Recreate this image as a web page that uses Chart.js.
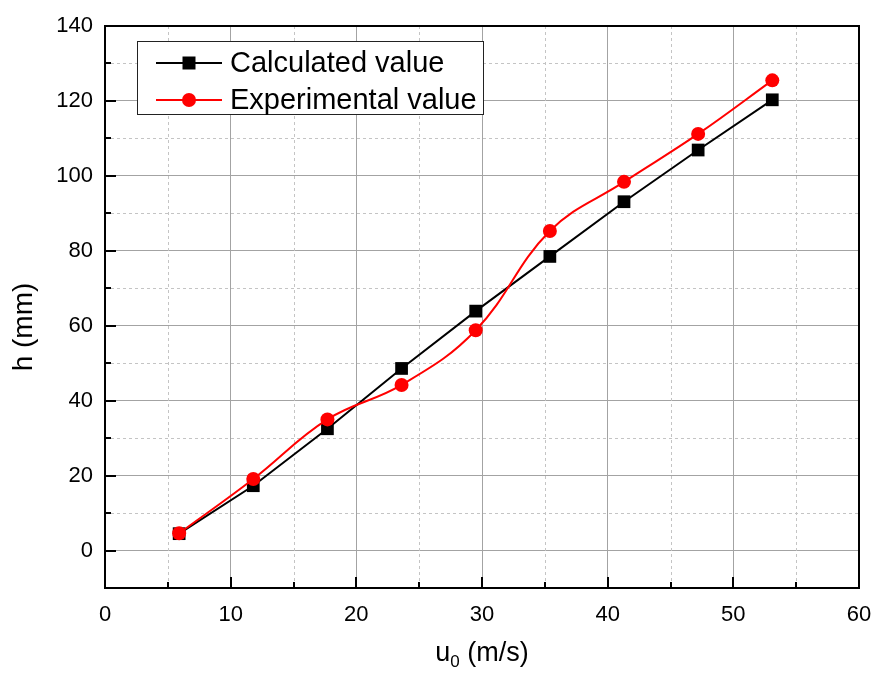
<!DOCTYPE html>
<html>
<head>
<meta charset="utf-8">
<script src="https://cdn.jsdelivr.net/npm/chart.js"></script>
<style>
  body { margin: 0; background: #fff; }
  #wrap { width: 875px; height: 675px; }
</style>
</head>
<body>
<div id="wrap"><canvas id="chart1" width="875" height="675"></canvas></div>
<script>
// data
var speeds = [5.9, 11.8, 17.7, 23.6, 29.5, 35.4, 41.3, 47.2, 53.1];
var calcH = [4.5, 17.3, 32.5, 48.6, 63.9, 78.5, 93.1, 106.9, 120.3];
var expH = [4.6, 19.1, 35.0, 44.2, 58.8, 85.3, 98.4, 111.2, 125.5];
var seriesNames = ['Calculated value', 'Experimental value'];

var FONT = "'Liberation Sans', Arial, sans-serif";

function pts(ys) {
  return speeds.map(function (s, i) { return { x: s, y: ys[i] }; });
}

// minor dashed grid, inner ticks, frame, axis titles and boxed legend
var decor = {
  id: 'decor',
  beforeDatasetsDraw: function (chart) {
    var ctx = chart.ctx, a = chart.chartArea, x = chart.scales.x, y = chart.scales.y;
    ctx.save();
    ctx.strokeStyle = '#c4c4c4';
    ctx.lineWidth = 1;
    ctx.setLineDash([3, 3]);
    x.ticks.forEach(function (t) {
      if (t.value % 10 !== 0) {
        var px = Math.round(x.getPixelForValue(t.value)) + 0.5;
        ctx.beginPath(); ctx.moveTo(px, a.top); ctx.lineTo(px, a.bottom); ctx.stroke();
      }
    });
    y.ticks.forEach(function (t) {
      if (t.value % 20 !== 0) {
        var py = Math.round(y.getPixelForValue(t.value)) + 0.5;
        ctx.beginPath(); ctx.moveTo(a.left, py); ctx.lineTo(a.right, py); ctx.stroke();
      }
    });
    ctx.restore();
  },
  afterDraw: function (chart) {
    var ctx = chart.ctx, a = chart.chartArea, x = chart.scales.x, y = chart.scales.y;
    ctx.save();
    ctx.strokeStyle = '#000';
    ctx.lineWidth = 2;
    // inward ticks
    x.ticks.forEach(function (t) {
      var px = Math.round(x.getPixelForValue(t.value));
      var len = t.value % 10 === 0 ? 11 : 6;
      ctx.beginPath(); ctx.moveTo(px, a.bottom); ctx.lineTo(px, a.bottom - len); ctx.stroke();
    });
    y.ticks.forEach(function (t) {
      var py = Math.round(y.getPixelForValue(t.value));
      var len = t.value % 20 === 0 ? 11 : 6;
      ctx.beginPath(); ctx.moveTo(a.left, py); ctx.lineTo(a.left + len, py); ctx.stroke();
    });
    ctx.strokeRect(a.left, a.top, a.right - a.left, a.bottom - a.top);

    // axis titles
    ctx.fillStyle = '#000';
    ctx.textBaseline = 'alphabetic';
    var big = '27px ' + FONT, small = '17px ' + FONT;
    ctx.font = big;
    var w1 = ctx.measureText('u').width, w3 = ctx.measureText(' (m/s)').width;
    ctx.font = small;
    var w2 = ctx.measureText('0').width;
    var sx = (a.left + a.right) / 2 - (w1 + w2 + w3) / 2;
    var base = 661;
    ctx.textAlign = 'left';
    ctx.font = big; ctx.fillText('u', sx, base);
    ctx.font = small; ctx.fillText('0', sx + w1, base + 6);
    ctx.font = big; ctx.fillText(' (m/s)', sx + w1 + w2, base);

    ctx.save();
    ctx.translate(24, 327);
    ctx.rotate(-Math.PI / 2);
    ctx.textAlign = 'center';
    ctx.textBaseline = 'middle';
    ctx.font = '28px ' + FONT;
    ctx.fillText('h (mm)', 0, 0);
    ctx.restore();

    // legend
    ctx.fillStyle = '#fff';
    ctx.fillRect(137, 41, 346, 74);
    ctx.lineWidth = 1;
    ctx.strokeStyle = '#222';
    ctx.strokeRect(137.5, 41.5, 346, 73);
    var rows = [63, 100];
    chart.data.datasets.slice().sort(function (p, q) { return p.legendIdx - q.legendIdx; }).forEach(function (ds, i) {
      var ry = rows[i];
      ctx.strokeStyle = ds.borderColor;
      ctx.fillStyle = ds.backgroundColor;
      ctx.lineWidth = 2;
      ctx.beginPath(); ctx.moveTo(156, ry); ctx.lineTo(222, ry); ctx.stroke();
      ctx.beginPath();
      if (ds.pointStyle === 'rect') ctx.rect(189 - 6.5, ry - 6.5, 13, 13);
      else ctx.arc(189, ry, 7, 0, Math.PI * 2);
      ctx.fill();
      ctx.fillStyle = '#000';
      ctx.font = '29px ' + FONT;
      ctx.textAlign = 'left';
      ctx.textBaseline = 'middle';
      ctx.fillText(ds.label, 230, ry + 1);
    });
    ctx.restore();
  }
};

var graph = document.getElementById('chart1');

var myChart = new Chart(graph, {
  type: 'line',
  data: {
    datasets: [{
      label: seriesNames[0],
      legendIdx: 0,
      data: pts(calcH),
      borderColor: '#000000',
      backgroundColor: '#000000',
      borderWidth: 2,
      pointStyle: 'rect',
      pointRadius: 9,
      pointBorderWidth: 0,
      tension: 0,
      order: 1
    }, {
      label: seriesNames[1],
      legendIdx: 1,
      data: pts(expH),
      borderColor: '#ff0000',
      backgroundColor: '#ff0000',
      borderWidth: 2,
      pointStyle: 'circle',
      pointRadius: 7,
      pointBorderWidth: 0,
      tension: 0.4,
      order: 0
    }]
  },
  options: {
    responsive: false,
    animation: false,
    layout: { padding: { left: 0, top: 26, right: 16, bottom: 0 } },
    plugins: {
      legend: { display: false },
      tooltip: { enabled: false }
    },
    scales: {
      x: {
        type: 'linear',
        min: 0,
        max: 60,
        ticks: {
          stepSize: 5,
          autoSkip: false,
          maxRotation: 0,
          padding: 14,
          color: '#000',
          font: { family: FONT, size: 22 },
          callback: function (v) { return v % 10 === 0 ? v : ''; }
        },
        grid: {
          drawTicks: false,
          color: function (c) { return c.tick && c.tick.value % 10 === 0 ? '#a3a3a3' : 'rgba(0,0,0,0)'; }
        },
        border: { display: false },
        afterFit: function (s) { s.height = 87; s.paddingLeft = 0; s.paddingRight = 0; }
      },
      y: {
        min: -10,
        max: 140,
        ticks: {
          stepSize: 10,
          autoSkip: false,
          padding: 12,
          color: '#000',
          font: { family: FONT, size: 22 },
          callback: function (v) { return v % 20 === 0 ? v : ''; }
        },
        grid: {
          drawTicks: false,
          color: function (c) { return c.tick && c.tick.value % 20 === 0 ? '#a3a3a3' : 'rgba(0,0,0,0)'; }
        },
        border: { display: false },
        afterFit: function (s) { s.width = 105; }
      }
    }
  },
  plugins: [decor]
});
</script>
</body>
</html>
